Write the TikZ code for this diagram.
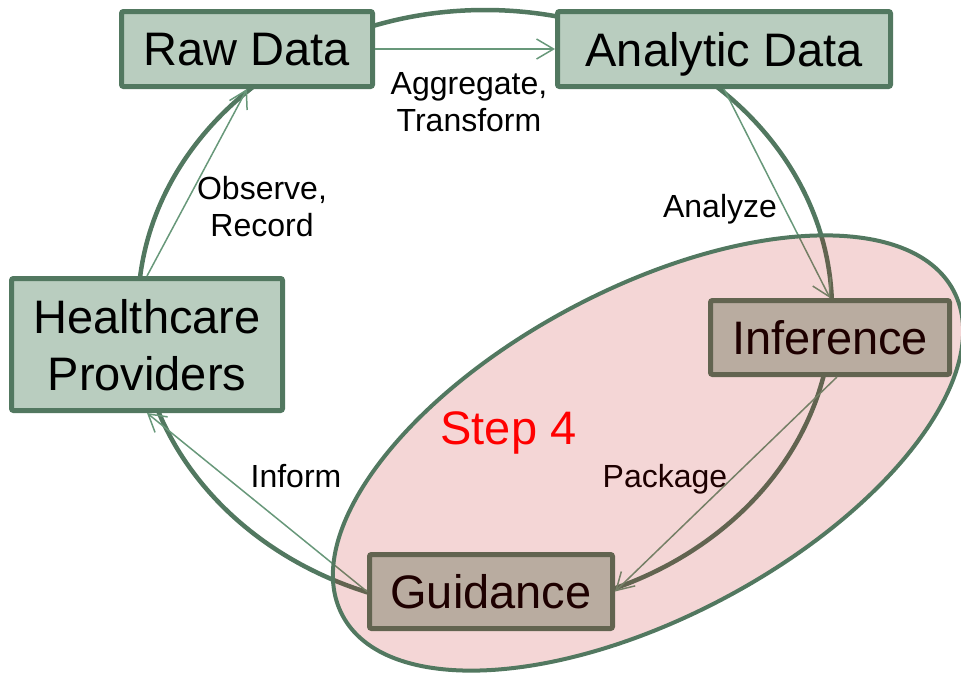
\documentclass[tikz,border=0pt]{standalone}
\usepackage{fontspec}
\setmainfont{Liberation Sans}
\usetikzlibrary{arrows.meta}
\definecolor{boxfill}{RGB}{185,205,191}
\definecolor{boxline}{RGB}{82,120,96}
\definecolor{flowline}{RGB}{104,152,122}
\definecolor{stepfill}{RGB}{187,0,0}
\begin{document}
\begin{tikzpicture}[x=1pt,y=-1pt,
	box/.style={draw=boxline,line width=5pt,fill=boxfill,rounded corners=2pt,inner sep=0pt,
		text depth=0pt,align=center,font=\fontsize{47}{57}\selectfont},
	flow/.style={draw=flowline,line width=1.5pt,-{Straight Barb[length=17pt,width=20pt]}},
	lbl/.style={inner sep=0pt,align=center,font=\fontsize{32}{37}\selectfont},
	ring/.style={draw=boxline,line width=4.5pt},
	stepzone/.style={draw=boxline,line width=4pt,fill=stepfill,fill opacity=0.16}]
	\useasboundingbox (0,0) rectangle (961,673);
	\draw[ring] (485,310) ellipse [x radius=347pt,y radius=300pt];
	\node[box,minimum width=251pt,minimum height=75pt] (raw) at (247,49) {Raw Data};
	\node[box,minimum width=333pt,minimum height=75pt] (analytic) at (724,49) {Analytic Data};
	\node[box,minimum width=239pt,minimum height=74pt] (inference) at (830,337.5) {Inference};
	\node[box,minimum width=243pt,minimum height=74pt] (guidance) at (491,591.5) {Guidance};
	\node[box,minimum width=271pt,minimum height=132pt] (providers) at (147,344.5) {Healthcare\\Providers};
	\draw[flow] (providers.north) -- (raw.south);
	\draw[flow] (raw.east) -- (analytic.west);
	\draw[flow] (analytic.south) -- (inference.north);
	\draw[flow] (inference.-80) -- (guidance.east);
	\draw[flow] (guidance.west) -- (providers.south);
	\node[lbl] (aggregate) at (469,102) {Aggregate,\\Transform};
	\node[lbl] (observe) at (262,207) {Observe,\\Record};
	\node[lbl,anchor=base] (analyze) at (720,217) {Analyze};
	\node[lbl,anchor=base] (inform) at (296,487) {Inform};
	\node[lbl,anchor=base] (package) at (665,487) {Package};
	\draw[stepzone] (648,453) ellipse [x radius=346pt,y radius=164pt,rotate=28];
	\node[lbl,anchor=base,text=red,font=\fontsize{47}{57}\selectfont] (step) at (508.5,444) {Step 4};
\end{tikzpicture}
\end{document}
